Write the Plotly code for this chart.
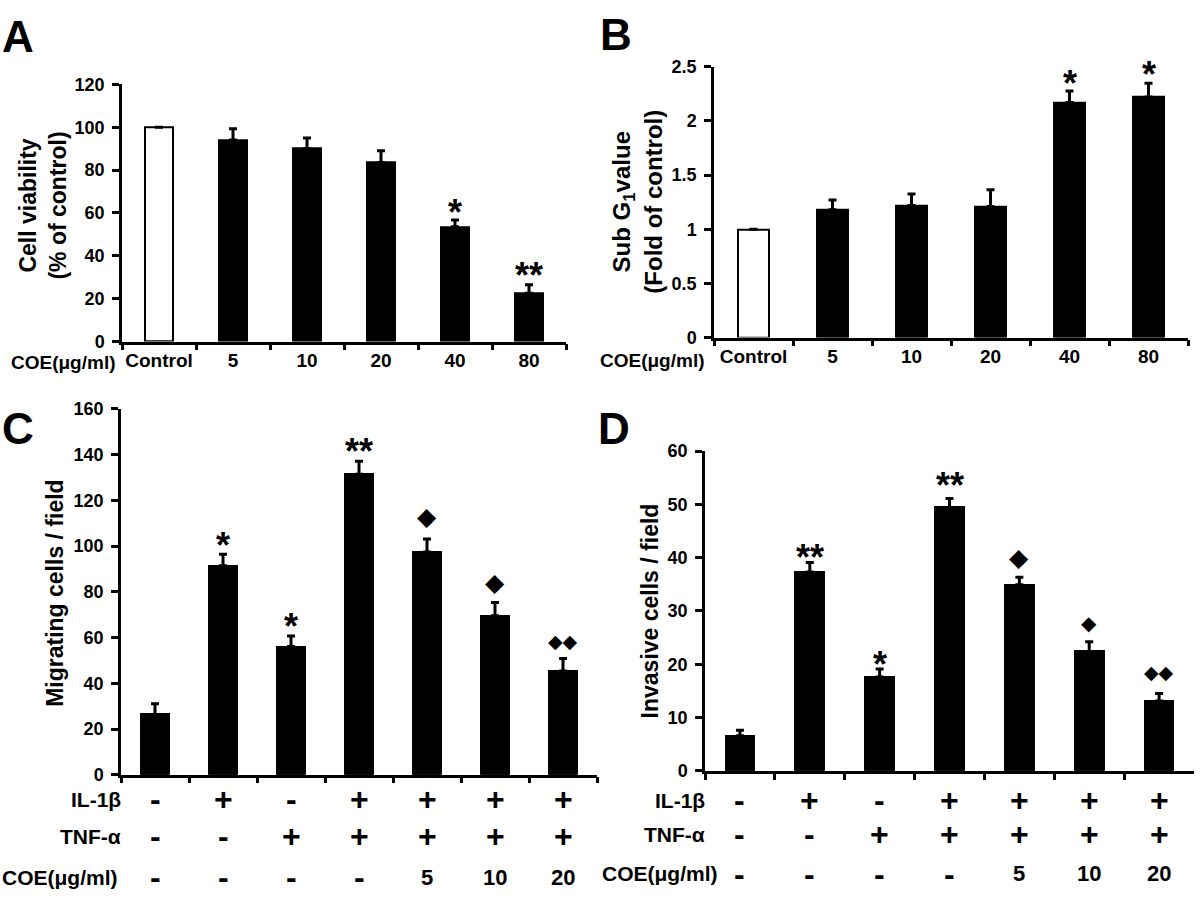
import plotly.graph_objects as go

# ---------------- data ----------------
# Panel A: cell viability (% of control)
a_labels = ["Control", "5", "10", "20", "40", "80"]
a_values = [100, 94, 90, 83.5, 53.5, 22.5]
a_errors = [None, 5.3, 5.0, 5.5, 3.2, 4.0]
a_marks = ["", "", "", "", "*", "**"]

# Panel B: Sub G1 value (fold of control)
b_labels = ["Control", "5", "10", "20", "40", "80"]
b_values = [1.0, 1.18, 1.22, 1.21, 2.17, 2.22]
b_errors = [None, 0.09, 0.106, 0.155, 0.106, 0.127]
b_marks = ["", "", "", "", "*", "*"]

# Panels C / D: treatment conditions
cd_il1b = ["-", "+", "-", "+", "+", "+", "+"]
cd_tnfa = ["-", "-", "+", "+", "+", "+", "+"]
cd_coe = ["-", "-", "-", "-", "5", "10", "20"]

c_values = [26.4, 91.4, 56.1, 131.4, 97.4, 69.6, 45.4]
c_errors = [4.7, 5.0, 4.6, 5.7, 5.7, 5.8, 5.5]
c_marks = ["", "*", "*", "**", "◆", "◆", "◆◆"]

d_values = [6.6, 37.3, 17.6, 49.4, 34.9, 22.4, 13.1]
d_errors = [1.0, 1.8, 1.5, 1.7, 1.4, 1.8, 1.4]
d_marks = ["", "**", "*", "**", "◆", "◆", "◆◆"]

# ---------------- style ----------------
W, H = 1200, 906
FONT = "Liberation Sans, Arial, Helvetica, sans-serif"
SYM_FONT = "DejaVu Sans, Liberation Sans, sans-serif"

def px_x(p):
    return p / W

def px_y(p):
    return 1 - p / H

# plot areas in pixels: (left, right, top, bottom)
boxes = {
    "A": (122, 566, 76, 339),
    "B": (714, 1188, 58, 335),
    "C": (121, 597, 408, 782),
    "D": (705, 1194, 451, 778),
}
# offsets (px) of the significance marks above the error-bar cap
a_mark_off = [0, 0, 0, 0, 15, 17]
b_mark_off = [0, 0, 0, 0, 15, 17]
c_mark_off = [0, 17, 17, 18, 23, 20, 17]
d_mark_off = [0, 13, 13, 21, 20, 19, 22]
c_diamond_sizes = [0, 0, 0, 0, 25, 25, 19]
d_diamond_sizes = [0, 0, 0, 0, 25, 20, 19]
STAR_SIZE = 36

fig = go.Figure()
annotations = []

def cat_keys(n, rows):
    return ["|".join(r[i] for r in rows) + f"#{i}" for i in range(n)]

a_x = ["A:" + l for l in a_labels]
b_x = ["B:" + l for l in b_labels]
cd_x = cat_keys(7, [cd_il1b, cd_tnfa, cd_coe])

panels = [
    ("A", "x", "y", a_x, a_labels, a_values, a_errors, a_marks, a_mark_off, None, 0.39, [0, 120], 20),
    ("B", "x2", "y2", b_x, b_labels, b_values, b_errors, b_marks, b_mark_off, None, 0.39, [0, 2.5], 0.5),
    ("C", "x3", "y3", cd_x, None, c_values, c_errors, c_marks, c_mark_off, c_diamond_sizes, 0.40, [0, 160], 20),
    ("D", "x4", "y4", cd_x, None, d_values, d_errors, d_marks, d_mark_off, d_diamond_sizes, 0.41, [0, 60], 10),
]

layout_axes = {}
for idx, (name, xa, ya, xs, xlabels, vals, errs, marks, moff, dsizes, bw, yr, dt) in enumerate(panels):
    colors = ["white" if (name in "AB" and i == 0) else "black" for i in range(len(vals))]
    fig.add_trace(go.Bar(
        x=xs, y=vals, xaxis=xa, yaxis=ya, width=bw,
        marker=dict(color=colors, line=dict(color="black", width=2)),
        error_y=dict(type="data", symmetric=False, array=errs,
                     arrayminus=[0] * len(vals), color="black",
                     thickness=3, width=4),
        showlegend=False, hoverinfo="skip",
    ))
    l, r, t, b = boxes[name]
    sfx = "" if idx == 0 else str(idx + 1)
    xaxis = dict(
        domain=[px_x(l), px_x(r)], anchor=ya, type="category",
        range=[-0.5, len(vals) - 0.5], showline=True, linecolor="black",
        linewidth=2.5, ticks="outside", tickson="boundaries", ticklen=6,
        tickwidth=2.5, tickcolor="black", showgrid=False, zeroline=False,
        tickangle=0, showticklabels=xlabels is not None,
        tickfont=dict(family=FONT, size=19, color="black", weight="bold"),
    )
    if xlabels is not None:
        xaxis.update(tickmode="array", tickvals=xs, ticktext=xlabels)
    layout_axes["xaxis" + sfx] = xaxis
    layout_axes["yaxis" + sfx] = dict(
        domain=[px_y(b), px_y(t)], anchor=xa, range=yr, dtick=dt, tick0=0,
        showline=True, linecolor="black", linewidth=2.5, ticks="outside",
        ticklen=7, tickwidth=2.5, tickcolor="black", showgrid=False,
        zeroline=False, ticklabelstandoff=4,
        tickfont=dict(family=FONT, size=18, color="black", weight="bold"),
    )
    # significance marks
    for i, m in enumerate(marks):
        if not m:
            continue
        top = vals[i] + (errs[i] or 0)
        if "*" in m:
            fsize, fam, corr = STAR_SIZE, FONT, -8
        else:
            fsize, fam, corr = dsizes[i], SYM_FONT, 0
        annotations.append(dict(
            x=i, y=top, xref=xa, yref=ya, text=m, showarrow=False,
            xanchor="center", yanchor="middle", yshift=moff[i] + corr,
            font=dict(family=fam, size=fsize, color="black", weight="bold"),
        ))

# panel letters
for letter, (lx, ly) in {"A": (0, 27), "B": (598, 25), "C": (0, 428), "D": (596, 428)}.items():
    annotations.append(dict(
        x=px_x(lx), y=px_y(ly), xref="paper", yref="paper", text=letter,
        showarrow=False, xanchor="left", yanchor="middle",
        font=dict(family=FONT, size=44, color="black", weight="bold"),
    ))

# y-axis titles
ytitles = [
    ("Cell viability<br>(% of control)", 43, 200, 23),
    ("Sub G<sub>1</sub>value<br>(Fold of control)", 637, 196, 24),
    ("Migrating cells / field", 55, 596, 23),
    ("Invasive cells / field", 650, 615, 23),
]
for txt, cx, cy, fs in ytitles:
    annotations.append(dict(
        x=px_x(cx), y=px_y(cy), xref="paper", yref="paper", text=txt,
        showarrow=False, textangle=-90, xanchor="center", yanchor="middle",
        font=dict(family=FONT, size=fs, color="black", weight="bold"),
    ))

# COE label for panels A and B
for rx, cy in [(118, 360), (707, 358)]:
    annotations.append(dict(
        x=px_x(rx), y=px_y(cy), xref="paper", yref="paper", text="COE(μg/ml)",
        showarrow=False, xanchor="right", yanchor="middle",
        font=dict(family=FONT, size=19, color="black", weight="bold"),
    ))

# treatment rows for C and D
row_names = ["IL-1β", "TNF-α", "COE(μg/ml)"]
row_vals = [cd_il1b, cd_tnfa, cd_coe]
row_layout = {
    "x3": ([807, 845, 887], [123, 123, 120]),
    "x4": ([808, 843, 883], [707, 707, 720]),
}
for xa, (ys, rights) in row_layout.items():
    for k in range(3):
        annotations.append(dict(
            x=px_x(rights[k]), y=px_y(ys[k]), xref="paper", yref="paper",
            text=row_names[k], showarrow=False, xanchor="right", yanchor="middle",
            font=dict(family=FONT, size=21, color="black", weight="bold"),
        ))
        for i, v in enumerate(row_vals[k]):
            annotations.append(dict(
                x=i, y=px_y(ys[k]), xref=xa, yref="paper", text=v,
                showarrow=False, xanchor="center", yanchor="middle",
                font=dict(family=FONT, size=(32 if v in "+-" else 22),
                          color="black", weight="bold"),
            ))

fig.update_layout(
    width=W, height=H, margin=dict(l=0, r=0, t=0, b=0),
    paper_bgcolor="white", plot_bgcolor="white",
    annotations=annotations, bargap=0, **layout_axes,
)
fig.write_html("out.html", config={"displayModeBar": False},
               post_script="document.body.style.margin='0';")
